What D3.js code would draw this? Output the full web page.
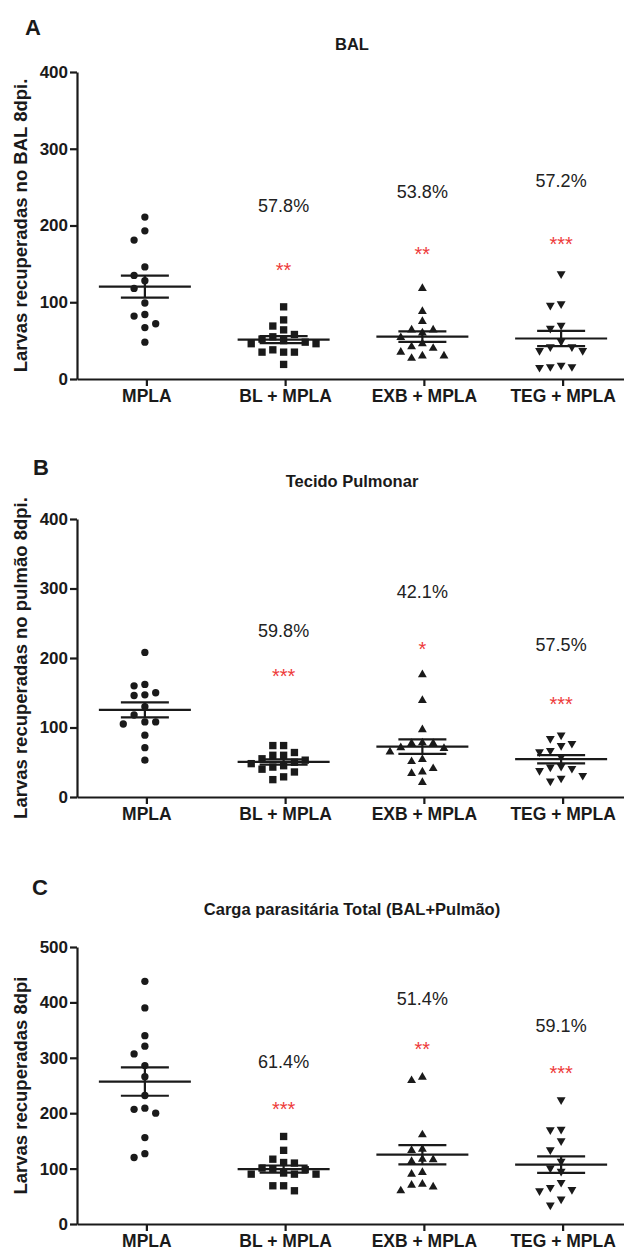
<!DOCTYPE html>
<html>
<head>
<meta charset="utf-8">
<script src="https://cdn.jsdelivr.net/npm/d3@7"></script>
<style>
  body { margin: 0; background: #fff; }
  svg { display: block; font-family: "Liberation Sans", Arial, sans-serif; }
</style>
</head>
<body>
<div id="chart"></div>
<script>
// grupos
const categories = ["MPLA", "BL + MPLA", "EXB + MPLA", "TEG + MPLA"];

// larvas recuperadas no BAL
const balValues = [
  [211, 193, 181, 146, 135, 128, 118, 99, 84, 82, 72, 67, 48],
  [94, 77, 69, 64, 58, 55, 52, 50, 48, 46, 46, 38, 35, 35, 35, 19],
  [118, 88, 75, 64, 64, 60, 54, 46, 42, 40, 35, 30, 30, 27],
  [137, 98, 96, 70, 66, 49, 42, 42, 37, 37, 18, 16, 16, 15]
];
// tecido pulmonar
const pulmValues = [
  [208, 162, 160, 150, 147, 146, 130, 118, 108, 108, 105, 89, 71, 53],
  [74, 74, 64, 60, 60, 55, 53, 50, 48, 45, 43, 40, 36, 29, 25],
  [176, 139, 97, 78, 77, 77, 71, 70, 65, 54, 51, 41, 36, 34, 21],
  [89, 84, 77, 74, 67, 65, 58, 44, 43, 41, 38, 31, 27, 23]
];
// total (BAL + pulmao)
const totalValues = [
  [438, 390, 340, 321, 307, 286, 266, 232, 209, 207, 200, 156, 127, 120],
  [158, 133, 117, 111, 110, 101, 99, 98, 92, 90, 90, 90, 69, 69, 60],
  [265, 259, 161, 135, 133, 117, 116, 113, 93, 90, 72, 70, 67, 60],
  [224, 171, 170, 150, 134, 113, 101, 95, 75, 66, 62, 60, 45, 34]
];

// anotacoes (% reducao e significancia), altura em unidades do eixo
const balPct = ["", "57.8%", "53.8%", "57.2%"];
const balPctAt = [0, 218, 236, 250];
const balStars = ["", "**", "**", "***"];
const balStarsAt = [0, 148, 169, 182];

const pulmPct = ["", "59.8%", "42.1%", "57.5%"];
const pulmPctAt = [0, 230, 286, 210];
const pulmStars = ["", "***", "*", "***"];
const pulmStarsAt = [0, 180, 219, 140];

const totalPct = ["", "61.4%", "51.4%", "59.1%"];
const totalPctAt = [0, 281, 396, 347];
const totalStars = ["", "***", "**", "***"];
const totalStarsAt = [0, 216, 324, 280];

const ticks400 = [0, 100, 200, 300, 400];
const ticks500 = [0, 100, 200, 300, 400, 500];

var width = 624, height = 1250;
var ink = "#1a1a1a", red = "#ee3b3b";

var panels = [
  {letter: "A", title: "BAL", ylabel: "Larvas recuperadas no BAL 8dpi.",
   values: balValues, pct: balPct, pctAt: balPctAt, stars: balStars, starsAt: balStarsAt,
   ticks: ticks400, top: 72, bottom: 379, titleY: 50, letterY: 35, letterX: 25},
  {letter: "B", title: "Tecido Pulmonar", ylabel: "Larvas recuperadas no pulmão 8dpi.",
   values: pulmValues, pct: pulmPct, pctAt: pulmPctAt, stars: pulmStars, starsAt: pulmStarsAt,
   ticks: ticks400, top: 519, bottom: 797, titleY: 487, letterY: 475, letterX: 33},
  {letter: "C", title: "Carga parasitária Total (BAL+Pulmão)", ylabel: "Larvas recuperadas 8dpi",
   values: totalValues, pct: totalPct, pctAt: totalPctAt, stars: totalStars, starsAt: totalStarsAt,
   ticks: ticks500, top: 947, bottom: 1224, titleY: 915, letterY: 895, letterX: 32}
];

var svg = d3.select("#chart").append("svg")
  .attr("width", width)
  .attr("height", height);

var x = d3.scalePoint()
  .domain(categories)
  .range([77, 632])
  .padding(0.5);

// simbolos de cada grupo (circulo, quadrado, triangulo, triangulo invertido)
var shapes = [d3.symbolCircle, d3.symbolSquare, d3.symbolTriangle, d3.symbolTriangle];
var sizes = [42, 54, 34, 34];
var rot = [0, 0, 0, 180];

// espalha pontos proximos na horizontal, como o GraphPad
function dodge(vals, y, minGap) {
  var placed = [], slots = new Array(vals.length);
  var order = d3.range(vals.length).sort(function(a, b) { return vals[b] - vals[a]; });
  order.forEach(function(i) {
    var py = y(vals[i]);
    for (var k = 0; ; k++) {
      var s = k === 0 ? 0 : (k % 2 ? -Math.ceil(k / 2) : k / 2);
      var hit = placed.some(function(p) { return p.s === s && Math.abs(p.py - py) < minGap; });
      if (!hit) { placed.push({s: s, py: py}); slots[i] = s; break; }
    }
  });
  return slots;
}

panels.forEach(function(p) {
  var g = svg.append("g");
  var y = d3.scaleLinear()
    .domain([0, d3.max(p.ticks)])
    .range([p.bottom, p.top]);

  // letra do painel e titulo
  g.append("text").attr("x", p.letterX).attr("y", p.letterY)
    .text(p.letter).style("font-size", "22px").style("font-weight", "bold").attr("fill", ink);
  g.append("text").attr("x", 352).attr("y", p.titleY)
    .attr("text-anchor", "middle")
    .text(p.title).style("font-size", "16.5px").style("font-weight", "bold").attr("fill", ink);

  // eixo y
  var yAxis = g.append("g")
    .attr("transform", "translate(77,0)")
    .call(d3.axisLeft(y).tickValues(p.ticks).tickSize(7).tickPadding(2).tickSizeOuter(0));
  // eixo x
  var xAxis = g.append("g")
    .attr("transform", "translate(0," + p.bottom + ")")
    .call(d3.axisBottom(x).tickSize(7).tickPadding(4).tickSizeOuter(0));

  [yAxis, xAxis].forEach(function(a) {
    a.selectAll("path, line").attr("stroke", ink).attr("stroke-width", 2.2);
    a.selectAll("text").attr("fill", ink)
      .style("font-size", "17px").style("font-weight", "bold")
      .style("font-family", "'Liberation Sans', Arial, sans-serif");
  });
  xAxis.selectAll("text").style("font-size", "17.5px");

  g.append("text")
    .attr("transform", "translate(27," + ((p.top + p.bottom) / 2) + ") rotate(-90)")
    .attr("text-anchor", "middle")
    .text(p.ylabel)
    .style("font-size", "18.5px").style("font-weight", "bold").attr("fill", ink);

  p.values.forEach(function(vals, gi) {
    var cx = x(categories[gi]) - 1.5;
    var slots = dodge(vals, y, 9.5);

    g.selectAll(".pt" + gi)
      .data(vals)
      .enter()
      .append("path")
      .attr("d", d3.symbol().type(shapes[gi]).size(sizes[gi]))
      .attr("transform", function(d, i) {
        return "translate(" + (cx + slots[i] * 10.8) + "," + y(d) + ") rotate(" + rot[gi] + ")";
      })
      .attr("fill", ink);

    // media +- EPM
    var m = d3.mean(vals);
    var sem = d3.deviation(vals) / Math.sqrt(vals.length);
    var lines = [
      [cx - 46, y(m), cx + 46, y(m)],
      [cx - 24, y(m + sem), cx + 24, y(m + sem)],
      [cx - 24, y(m - sem), cx + 24, y(m - sem)],
      [cx, y(m + sem), cx, y(m - sem)]
    ];
    g.selectAll(".ln" + gi)
      .data(lines)
      .enter()
      .append("line")
      .attr("x1", function(d) { return d[0]; })
      .attr("y1", function(d) { return d[1]; })
      .attr("x2", function(d) { return d[2]; })
      .attr("y2", function(d) { return d[3]; })
      .attr("stroke", ink)
      .attr("stroke-width", 2.2);

    if (p.pct[gi]) {
      g.append("text")
        .attr("x", cx).attr("y", y(p.pctAt[gi]))
        .attr("text-anchor", "middle")
        .text(p.pct[gi])
        .style("font-size", "18px").attr("fill", "#222");
      g.append("text")
        .attr("x", cx).attr("y", y(p.starsAt[gi]) + 11.5)
        .attr("text-anchor", "middle")
        .text(p.stars[gi])
        .style("font-size", "20px").attr("fill", red);
    }
  });
});
</script>
</body>
</html>
